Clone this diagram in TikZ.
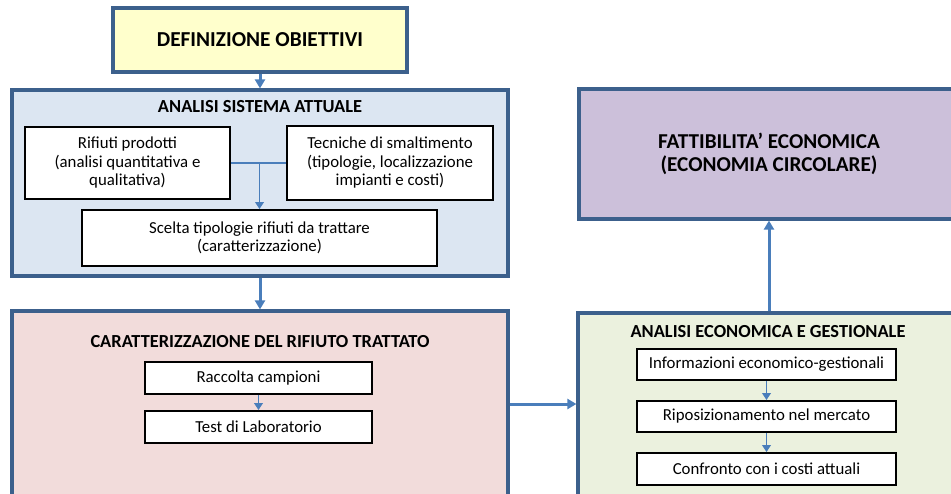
\documentclass[tikz,border=0pt]{standalone}
\usepackage{fontspec}
\setmainfont{Carlito}
\usetikzlibrary{positioning,arrows.meta}
\definecolor{frameblue}{RGB}{60,96,140}
\definecolor{arrowblue}{RGB}{74,126,187}
\definecolor{yellowbg}{RGB}{255,255,204}
\definecolor{bluebg}{RGB}{220,230,242}
\definecolor{pinkbg}{RGB}{242,220,219}
\definecolor{greenbg}{RGB}{235,241,222}
\definecolor{violetbg}{RGB}{204,192,218}

\begin{document}
\begin{tikzpicture}[x=1pt,y=-1pt,>={Triangle[length=9pt,width=10pt]},
    big node/.style={rectangle,draw=frameblue,line width=3.2pt,inner sep=0pt,align=center},
    small node/.style={rectangle,draw=black,line width=1.8pt,fill=white,inner sep=0pt,align=center,font=\fontsize{16.8}{18.5}\selectfont},
    title node/.style={font=\bfseries\fontsize{18.4}{21}\selectfont},
    main arrow/.style={->,draw=arrowblue,line width=3pt},
    thin arrow/.style={->,draw=arrowblue,line width=1.8pt,>={Triangle[length=7pt,width=8.5pt]}}]

    \useasboundingbox (0,0) rectangle (951,493);
    \clip (0,0) rectangle (951,493);

    \node[big node,fill=yellowbg,minimum width=294,minimum height=64,font=\bfseries\fontsize{21.3}{24}\selectfont] (1) at (260,40) {DEFINIZIONE OBIETTIVI};

    \node[big node,fill=bluebg,minimum width=496,minimum height=186] (2) at (260,183) {};
    \node[title node] (3) at (260,107) {ANALISI SISTEMA ATTUALE};
    \node[small node,minimum width=205,minimum height=72] (4) at (127.5,163) {Rifiuti prodotti\\(analisi quantitativa e\\qualitativa)};
    \node[small node,minimum width=206,minimum height=74] (5) at (390,163) {Tecniche di smaltimento\\(tipologie, localizzazione\\impianti e costi)};
    \node[small node,minimum width=355,minimum height=56] (6) at (259.5,238) {Scelta tipologie rifiuti da trattare\\(caratterizzazione)};

    \node[big node,fill=pinkbg,minimum width=496,minimum height=209] (7) at (260,415.5) {};
    \node[title node] (8) at (260,342) {CARATTERIZZAZIONE DEL RIFIUTO TRATTATO};
    \node[small node,minimum width=227,minimum height=32] (9) at (258.5,378) {Raccolta campioni};
    \node[small node,minimum width=227,minimum height=32] (10) at (258.5,427) {Test di Laboratorio};

    \node[big node,fill=greenbg,minimum width=387,minimum height=207] (11) at (771.5,416.5) {};
    \node[title node] (12) at (768,332) {ANALISI ECONOMICA E GESTIONALE};
    \node[small node,minimum width=259,minimum height=31] (13) at (766.5,364.5) {Informazioni economico-gestionali};
    \node[small node,minimum width=259,minimum height=31] (14) at (766.5,416.5) {Riposizionamento nel mercato};
    \node[small node,minimum width=259,minimum height=32] (15) at (766.5,469) {Confronto con i costi attuali};

    \node[big node,fill=violetbg,minimum width=386,minimum height=130] (16) at (772,154) {};
    \node[font=\bfseries\fontsize{21.2}{23.5}\selectfont,align=center] (17) at (769,154) {FATTIBILITA’ ECONOMICA\\(ECONOMIA CIRCOLARE)};

    \draw[main arrow] (1.south) -- (2.north);
    \draw[main arrow] (2.south) -- (7.north);
    \draw[main arrow] ([yshift=11.5]7.east) -- ([yshift=11.5]7.east -| 11.west);
    \draw[main arrow] (17 |- 11.north) -- (17 |- 16.south);
    \draw[thin arrow,-] (4.east) -- (5.west);
    \draw[thin arrow] (6.north |- 4.east) -- (6.north);
    \draw[thin arrow] (9) -- (10);
    \draw[thin arrow] (13) -- (14);
    \draw[thin arrow] (14) -- (15);
\end{tikzpicture}
\end{document}
